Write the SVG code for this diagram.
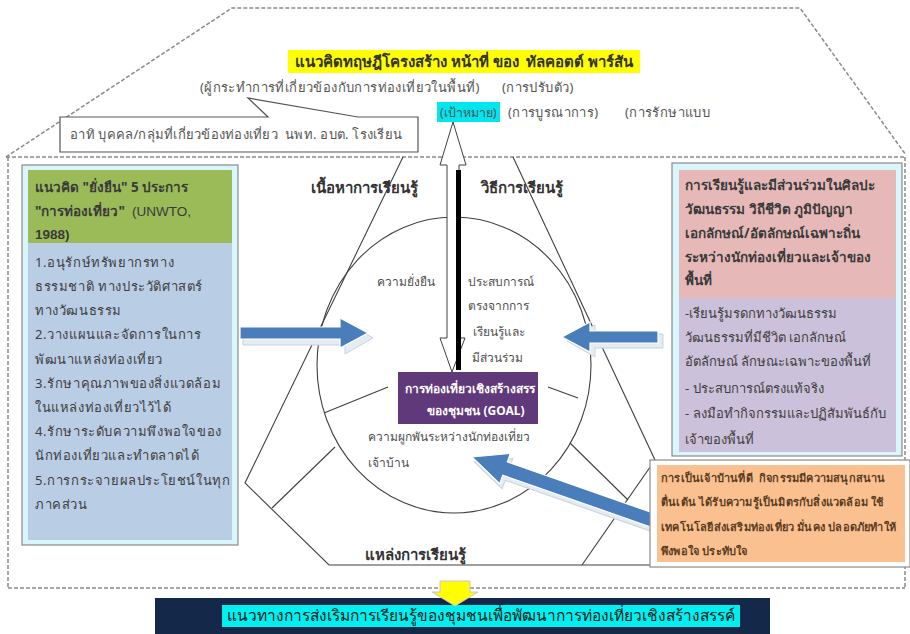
<svg xmlns="http://www.w3.org/2000/svg" width="910" height="634" viewBox="0 0 910 634">
<defs>
<clipPath id="goalclip"><rect x="398" y="372" width="140" height="52"/></clipPath>
</defs>
<style>
text{font-family:"Noto Sans","Liberation Sans",sans-serif;fill:#404040;white-space:pre}
.dash{fill:none;stroke:#8a8a8a;stroke-width:1.5;stroke-dasharray:4 2}
.ln{fill:none;stroke:#404040;stroke-width:1.1}
.s{font-size:13px;fill:#555;letter-spacing:0.4px}
.c{font-size:12px;fill:#505050}
.b{font-size:13px;letter-spacing:0.6px}
.r{font-size:13px}
.h{font-size:13.5px;font-weight:bold;fill:#3a3a3a}
.big{font-size:15px;font-weight:bold;fill:#333}
.o{font-size:11px;font-weight:bold;fill:#5a3d22;letter-spacing:0.2px}
.sh{fill:#e4ebf3;stroke:#c9d3df;stroke-width:1}
.ar{fill:#4a7ebb;stroke:#ffffff;stroke-width:1.2}
</style>
<g id="frame">
<path class="dash" d="M6,157 L232,8 L800,8 L906,155"/>
<line class="dash" x1="6" y1="157" x2="906" y2="157"/>
<line class="dash" x1="8" y1="157" x2="8" y2="588"/>
<line class="dash" x1="905" y1="157" x2="905" y2="588"/>
<line class="dash" x1="8" y1="588" x2="905" y2="588"/>
</g>
<g id="title">
<rect x="288" y="50" width="352" height="23" fill="#ffff00"/>
<text class="big" x="464" y="67" text-anchor="middle">แนวคิดทฤษฎีโครงสร้าง หน้าที่ ของ  ทัลคอตต์ พาร์สัน</text>
<text class="s" x="200" y="92">(ผู้กระทำการที่เกี่ยวข้องกับการท่องเที่ยวในพื้นที่)</text>
<text class="s" x="502" y="92">(การปรับตัว)</text>
<rect x="437" y="102" width="63" height="20" fill="#00e5ee"/>
<text x="440" y="117" style="font-size:12.5px;fill:#555">(เป้าหมาย)</text>
<text class="s" x="508" y="117">(การบูรณาการ)</text>
<text class="s" x="625" y="117">(การรักษาแบบ</text>
</g>
<g id="callout">
<path d="M60,117 L268,117 L248,98 L358,117 L418,117 L418,152 L60,152 Z" fill="#fff" stroke="#555" stroke-width="1.2"/>
<text class="s" x="70" y="139" style="letter-spacing:0.25px">อาทิ บุคคล/กลุ่มที่เกี่ยวข้องท่องเที่ยว  นพท. อบต. โรงเรียน</text>
</g>
<g id="connectors">
<path class="ln" d="M403,157 L245,483 L329,565 L650,565"/>
<path class="ln" d="M513,157 L655,460 L582,565"/>
<ellipse class="ln" cx="454" cy="365" rx="137" ry="148"/>
<line class="ln" x1="324" y1="413" x2="388" y2="387"/>
<line class="ln" x1="548" y1="387" x2="578" y2="398"/>
<line class="ln" x1="272" y1="508" x2="335" y2="447"/>
<line class="ln" x1="570" y1="443" x2="628" y2="500"/>
<path d="M453,122 L466,165 L459,165 L459,338 L465,338 L452,372 L440,338 L447,338 L447,165 L440,165 Z" fill="#fff" stroke="#404040" stroke-width="1"/>
<rect x="456" y="170" width="5" height="200" fill="#000"/>
<polygon class="sh" points="243,331 345,331 345,322 373,338 345,354 345,345 243,345"/>
<polygon class="ar" points="240,327 340,327 340,318 368,333 340,348 340,339 240,339"/>
<polygon class="sh" points="663,334 595,334 595,325 567,341 595,357 595,348 663,348"/>
<polygon class="ar" points="658,331 590,331 590,322 562,337 590,352 590,343 658,343"/>
<g transform="translate(472,457) rotate(19.3)">
<polygon class="sh" transform="translate(4,4)" points="0,0 35,-16 35,-7 191,-7 191,7 35,7 35,16"/>
<polygon class="ar" points="0,0 35,-16 35,-7 191,-7 191,7 35,7 35,16"/>
</g>
</g>
<g id="center-labels">
<text class="big" x="364" y="193" text-anchor="middle">เนื้อหาการเรียนรู้</text>
<text class="big" x="522" y="193" text-anchor="middle">วิธีการเรียนรู้</text>
<text class="big" x="415" y="560" text-anchor="middle">แหล่งการเรียนรู้</text>
<text class="c" x="377" y="286">ความยั่งยืน</text>
<text class="c" x="468" y="286">ประสบการณ์</text>
<text class="c" x="468" y="310">ตรงจากการ</text>
<text class="c" x="473" y="336">เรียนรู้และ</text>
<text class="c" x="472" y="362">มีส่วนร่วม</text>
<text class="c" x="368" y="441">ความผูกพันระหว่างนักท่องเที่ยว</text>
<text class="c" x="368" y="467">เจ้าบ้าน</text>
</g>
<g id="goal">
<rect x="398" y="372" width="140" height="52" fill="#60397a"/>
<g clip-path="url(#goalclip)">
<text x="405" y="393" style="font-size:12px;font-weight:bold;fill:#fff">การท่องเที่ยวเชิงสร้างสรร</text>
</g>
<text x="476" y="415" text-anchor="middle" style="font-size:12px;font-weight:bold;fill:#fff">ของชุมชน (GOAL)</text>
</g>
<g id="left-box">
<rect x="22" y="165" width="216" height="380" fill="#d8f6fb" stroke="#8a8a8a" stroke-width="1.2"/>
<rect x="28" y="170" width="204" height="73" fill="#9bbb59"/>
<rect x="28" y="243" width="204" height="297" fill="#b9cde5"/>
<text class="h" x="35" y="192">แนวคิด "ยั่งยืน" 5 ประการ</text>
<text class="h" x="35" y="216">"การท่องเที่ยว"  <tspan style="font-family:'Liberation Sans',sans-serif;font-weight:normal">(UNWTO,</tspan></text>
<text class="h" x="35" y="239" style="font-family:'Liberation Sans',sans-serif">1988)</text>
<text class="b" x="35" y="267">1.อนุรักษ์ทรัพยากรทาง</text>
<text class="b" x="35" y="291">ธรรมชาติ ทางประวัติศาสตร์</text>
<text class="b" x="35" y="315">ทางวัฒนธรรม</text>
<text class="b" x="35" y="339">2.วางแผนและจัดการในการ</text>
<text class="b" x="35" y="364">พัฒนาแหล่งท่องเที่ยว</text>
<text class="b" x="35" y="388">3.รักษาคุณภาพของสิ่งแวดล้อม</text>
<text class="b" x="35" y="412">ในแหล่งท่องเที่ยวไว้ได้</text>
<text class="b" x="35" y="436">4.รักษาระดับความพึงพอใจของ</text>
<text class="b" x="35" y="460">นักท่องเที่ยวและทำตลาดได้</text>
<text class="b" x="35" y="485">5.การกระจายผลประโยชน์ในทุก</text>
<text class="b" x="35" y="509">ภาคส่วน</text>
</g>
<g id="right-box">
<rect x="672" y="163" width="230" height="293" fill="#d8f6fb" stroke="#8a8a8a" stroke-width="1.2"/>
<rect x="679" y="170" width="217" height="128" fill="#e6b9b8"/>
<rect x="679" y="298" width="217" height="154" fill="#ccc1da"/>
<text class="h" x="685" y="190">การเรียนรู้และมีส่วนร่วมในศิลปะ</text>
<text class="h" x="685" y="214">วัฒนธรรม วิถีชีวิต ภูมิปัญญา</text>
<text class="h" x="685" y="238">เอกลักษณ์/อัตลักษณ์เฉพาะถิ่น</text>
<text class="h" x="685" y="262">ระหว่างนักท่องเที่ยวและเจ้าของ</text>
<text class="h" x="685" y="285">พื้นที่</text>
<text class="r" x="685" y="318">-เรียนรู้มรดกทางวัฒนธรรม</text>
<text class="r" x="685" y="342">วัฒนธรรมที่มีชีวิต เอกลักษณ์</text>
<text class="r" x="685" y="366">อัตลักษณ์ ลักษณะเฉพาะของพื้นที่</text>
<text class="r" x="685" y="393">- ประสบการณ์ตรงแท้จริง</text>
<text class="r" x="685" y="418">- ลงมือทำกิจกรรมและปฏิสัมพันธ์กับ</text>
<text class="r" x="685" y="444">เจ้าของพื้นที่</text>
</g>
<g id="orange-box">
<rect x="650" y="460" width="260" height="107" fill="#fff" stroke="#8a8a8a" stroke-width="1.2"/>
<rect x="657" y="465" width="248" height="97" fill="#fac090"/>
<text class="o" x="661" y="482">การเป็นเจ้าบ้านที่ดี  กิจกรรมมีความสนุกสนาน</text>
<text class="o" x="661" y="506">ตื่นเต้น ได้รับความรู้เป็นมิตรกับสิ่งแวดล้อม ใช้</text>
<text class="o" x="661" y="531">เทคโนโลยีส่งเสริมท่องเที่ยว มั่นคง ปลอดภัยทำให้</text>
<text class="o" x="661" y="555">พึงพอใจ ประทับใจ</text>
</g>
<g id="result">
<rect x="155" y="598" width="615" height="36" fill="#14284a"/>
<rect x="222" y="605" width="518" height="22" fill="#00f0f0"/>
<text x="481" y="621" text-anchor="middle" style="font-size:15.5px;fill:#1a1a1a">แนวทางการส่งเริมการเรียนรู้ของชุมชนเพื่อพัฒนาการท่องเที่ยวเชิงสร้างสรรค์</text>
</g>
<g id="down-arrow">
<polygon points="440,581 470,581 470,592 478,592 455,606 432,592 440,592" fill="#ffff00" stroke="#c8c0e0" stroke-width="1"/>
</g>
</svg>
